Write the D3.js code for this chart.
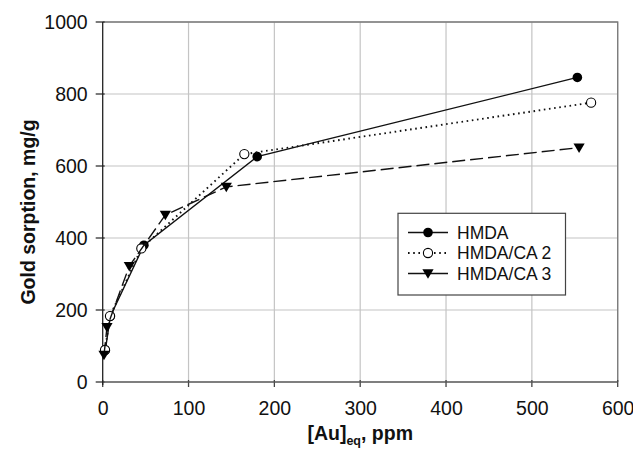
<!DOCTYPE html>
<html>
<head>
<meta charset="utf-8">
<script src="https://cdn.jsdelivr.net/npm/d3@7"></script>
<style>
  html, body { margin: 0; padding: 0; background: #fff; }
  svg { display: block; font-family: "Liberation Sans", Arial, sans-serif; }
</style>
</head>
<body>
<svg id="chart" width="633" height="456"></svg>
<script>
// Gold sorption isotherms: equilibrium Au concentration (ppm) vs uptake (mg/g)
const hmdaX = [3, 9, 48, 180, 553];
const hmdaY = [88, 183, 380, 626, 846];

const ca2X = [2.7, 8.5, 45, 165, 569];
const ca2Y = [89, 183, 371, 633, 776];

const ca3X = [1.5, 5, 31, 73, 144, 555];
const ca3Y = [75, 152, 322, 464, 542, 651];

const seriesNames = ["HMDA", "HMDA/CA 2", "HMDA/CA 3"];
const xTicks = [0, 100, 200, 300, 400, 500, 600];
const yTicks = [0, 200, 400, 600, 800, 1000];

const svg = d3.select("#chart");
const plotLeft = 102.7, plotRight = 617.7, plotTop = 22, plotBottom = 382;

const x = d3.scaleLinear().domain([0, 600]).range([plotLeft, plotRight]);
const y = d3.scaleLinear().domain([0, 1000]).range([plotBottom, plotTop]);

// gridlines
svg.append("g").selectAll("line").data(xTicks.slice(1)).join("line")
  .attr("x1", d => x(d)).attr("x2", d => x(d))
  .attr("y1", plotTop).attr("y2", plotBottom)
  .attr("stroke", "#c4c4c4").attr("stroke-width", 1.2);
svg.append("g").selectAll("line").data(yTicks.slice(1)).join("line")
  .attr("x1", plotLeft).attr("x2", plotRight)
  .attr("y1", d => y(d)).attr("y2", d => y(d))
  .attr("stroke", "#c4c4c4").attr("stroke-width", 1.2);

// plot frame (top and right)
svg.append("path")
  .attr("d", `M${plotLeft},${plotTop}H${plotRight}V${plotBottom}`)
  .attr("fill", "none").attr("stroke", "#7a7a7a").attr("stroke-width", 1.3);

// axes
const xAxis = d3.axisBottom(x).tickValues(xTicks).tickSize(0).tickFormat(d3.format("d"));
const gx = svg.append("g").attr("transform", `translate(0,${plotBottom})`).call(xAxis);
gx.select(".domain").remove();
gx.selectAll("text").attr("font-size", 19.5).attr("fill", "#111").attr("dy", null).attr("y", 33);

const yAxis = d3.axisLeft(y).tickValues(yTicks).tickSize(0).tickFormat(d3.format("d"));
const gy = svg.append("g").attr("transform", `translate(${plotLeft},0)`).call(yAxis);
gy.select(".domain").remove();
gy.selectAll("text").attr("font-size", 19.5).attr("fill", "#111").attr("x", -15).attr("dy", "0.35em");

// axis lines and crossing tick marks
svg.append("g").selectAll("line").data(xTicks).join("line")
  .attr("x1", d => x(d)).attr("x2", d => x(d))
  .attr("y1", plotBottom - 2).attr("y2", plotBottom + 5)
  .attr("stroke", "#444").attr("stroke-width", 1.3);
svg.append("g").selectAll("line").data(yTicks).join("line")
  .attr("x1", plotLeft - 7).attr("x2", plotLeft + 2)
  .attr("y1", d => y(d)).attr("y2", d => y(d))
  .attr("stroke", "#333").attr("stroke-width", 1.3);
svg.append("line").attr("x1", plotLeft).attr("x2", plotRight).attr("y1", plotBottom).attr("y2", plotBottom)
  .attr("stroke", "#555").attr("stroke-width", 1.6);
svg.append("line").attr("x1", plotLeft).attr("x2", plotLeft).attr("y1", plotTop).attr("y2", plotBottom + 3)
  .attr("stroke", "#222").attr("stroke-width", 1.3);

// axis titles
const xt = svg.append("text").attr("x", (plotLeft + plotRight) / 2).attr("y", 440)
  .attr("text-anchor", "middle").attr("font-weight", "bold").attr("font-size", 19.5).attr("fill", "#111");
xt.append("tspan").text("[Au]");
xt.append("tspan").attr("font-size", 12.5).attr("dy", 5).text("eq");
xt.append("tspan").attr("dy", -5).text(", ppm");

svg.append("text")
  .attr("transform", `translate(35,212) rotate(-90)`)
  .attr("text-anchor", "middle").attr("font-weight", "bold").attr("font-size", 19.5).attr("fill", "#111")
  .text("Gold sorption, mg/g");

// series
const series = [
  { name: seriesNames[0], xs: hmdaX, ys: hmdaY, dash: null, marker: "dot" },
  { name: seriesNames[1], xs: ca2X, ys: ca2Y, dash: "1.6,3.6", marker: "ring" },
  { name: seriesNames[2], xs: ca3X, ys: ca3Y, dash: "13,5", marker: "tri" }
];

const line = d3.line().x(d => x(d[0])).y(d => y(d[1]));

function drawMarker(g, kind, cx, cy) {
  if (kind === "dot") {
    g.append("circle").attr("cx", cx).attr("cy", cy).attr("r", 4.8).attr("fill", "#000");
  } else if (kind === "ring") {
    g.append("circle").attr("cx", cx).attr("cy", cy).attr("r", 4.6)
      .attr("fill", "#fff").attr("stroke", "#000").attr("stroke-width", 1.1);
  } else {
    const s = 5.6;
    g.append("path")
      .attr("d", `M${cx - s},${cy - s * 0.75}L${cx + s},${cy - s * 0.75}L${cx},${cy + s * 0.95}Z`)
      .attr("fill", "#000");
  }
}

series.forEach(s => {
  const pts = s.xs.map((v, i) => [v, s.ys[i]]);
  const g = svg.append("g");
  g.append("path").attr("d", line(pts)).attr("fill", "none")
    .attr("stroke", "#111").attr("stroke-width", s.marker === "ring" ? 1.9 : 1.4)
    .attr("stroke-dasharray", s.dash);
  pts.forEach(p => drawMarker(g, s.marker, x(p[0]), y(p[1])));
});

// legend
const lg = svg.append("g");
lg.append("rect").attr("x", 398).attr("y", 213.3).attr("width", 167.5).attr("height", 81.7)
  .attr("fill", "#fff").attr("stroke", "#444").attr("stroke-width", 1.2);
series.forEach((s, i) => {
  const cy = 232.5 + i * 20.5;
  lg.append("line").attr("x1", 408).attr("x2", 448).attr("y1", cy).attr("y2", cy)
    .attr("stroke", "#111").attr("stroke-width", s.marker === "ring" ? 1.9 : 1.4)
    .attr("stroke-dasharray", s.marker === "tri" ? null : s.dash);
  drawMarker(lg, s.marker, 428, cy);
  lg.append("text").attr("x", 457).attr("y", cy).attr("dy", "0.36em")
    .attr("font-size", 17.5).attr("fill", "#111").text(s.name);
});
</script>
</body>
</html>
